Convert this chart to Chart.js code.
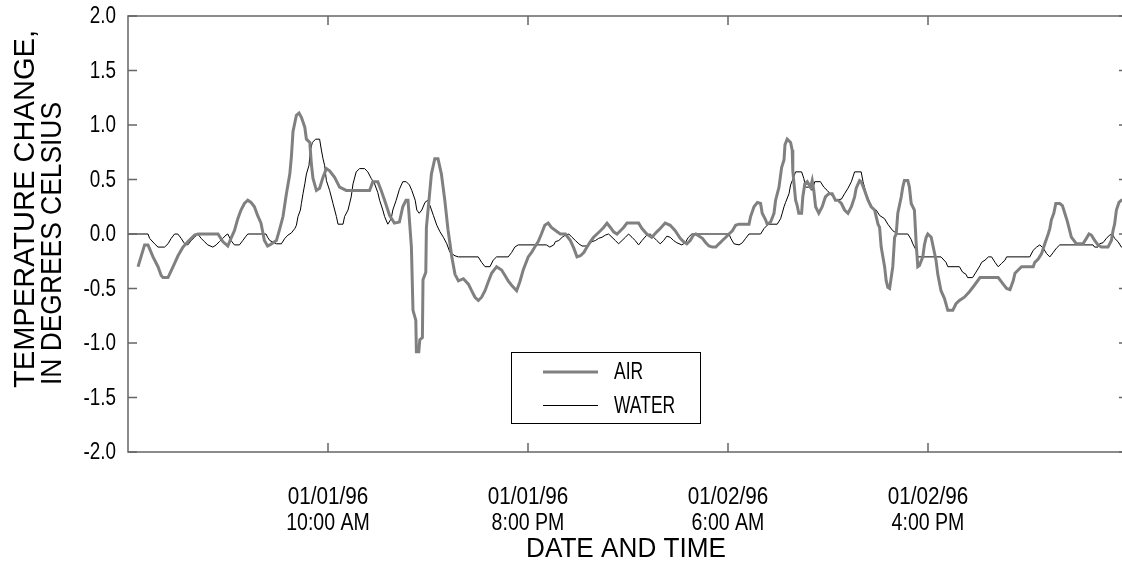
<!DOCTYPE html>
<html>
<head>
<meta charset="utf-8">
<script src="https://cdn.jsdelivr.net/npm/chart.js@4.4.1/dist/chart.umd.min.js"></script>
<style>
  html, body { margin: 0; padding: 0; background: #fff; overflow: hidden; }
  #wrap { width: 1129px; height: 564px; }
</style>
</head>
<body>
<div id="wrap"><canvas id="tempChart" width="1129" height="564"></canvas></div>
<script>
// hours since 01/01/96 12:00 AM
const airHours = [
  0.5, 0.83, 1.0, 1.25, 1.5, 1.66, 1.75, 2.0, 2.33, 2.5,
  2.75, 3.0, 3.33, 3.5, 4.5, 4.74, 4.99, 5.15, 5.32, 5.49,
  5.65, 5.82, 5.99, 6.15, 6.32, 6.48, 6.65, 6.82, 6.98, 7.09,
  7.42, 7.59, 7.75, 7.92, 8.09, 8.17, 8.25, 8.42, 8.55, 8.67,
  8.84, 8.92, 9.09, 9.17, 9.25, 9.42, 9.58, 9.75, 9.92, 10.08,
  10.33, 10.58, 10.91, 12.08, 12.24, 12.49, 12.66, 12.83, 13.08, 13.32,
  13.57, 13.74, 13.90, 14.0, 14.17, 14.25, 14.39, 14.42, 14.54, 14.59,
  14.72, 14.75, 14.89, 14.92, 15.05, 15.17, 15.34, 15.50, 15.67, 15.84,
  16.00, 16.10, 16.19, 16.35, 16.52, 16.77, 17.02, 17.18, 17.35, 17.52,
  17.68, 17.85, 18.01, 18.18, 18.43, 18.68, 18.85, 19.01, 19.18, 19.43,
  19.59, 19.76, 20.01, 20.18, 20.34, 20.51, 20.67, 20.84, 21.01, 21.17,
  21.46, 21.62, 21.87, 22.12, 22.29, 22.45, 22.62, 22.79, 22.95, 23.12,
  23.28, 23.45, 23.62, 23.78, 23.95, 24.12, 24.28, 24.45, 24.62, 24.78,
  24.95, 25.53, 25.70, 25.94, 26.19, 26.44, 26.61, 26.86, 27.11, 27.36,
  27.61, 27.77, 27.94, 28.11, 28.27, 28.39, 28.72, 28.89, 29.05, 29.22,
  29.39, 29.55, 29.72, 29.89, 30.05, 30.22, 30.38, 30.55, 31.05, 31.13,
  31.30, 31.47, 31.63, 31.71, 31.88, 31.96, 32.13, 32.30, 32.38, 32.55,
  32.68, 32.80, 32.85, 32.96, 33.13, 33.21, 33.24, 33.38, 33.46, 33.54,
  33.68, 33.74, 33.84, 33.96, 34.13, 34.21, 34.29, 34.38, 34.54, 34.71,
  34.87, 35.04, 35.21, 35.37, 35.50, 35.67, 35.83, 36.00, 36.17, 36.33,
  36.41, 36.58, 36.66, 36.83, 37.00, 37.16, 37.33, 37.50, 37.58, 37.66,
  37.83, 37.91, 37.99, 38.08, 38.16, 38.24, 38.33, 38.41, 38.49, 38.66,
  38.74, 38.82, 38.99, 39.07, 39.16, 39.32, 39.41, 39.49, 39.57, 39.74,
  39.82, 39.91, 39.99, 40.16, 40.24, 40.40, 40.49, 40.65, 40.82, 40.99,
  41.24, 41.40, 41.57, 41.82, 42.07, 42.32, 42.60, 43.51, 43.76, 43.93,
  44.10, 44.18, 44.26, 44.35, 44.51, 44.68, 45.26, 45.34, 45.51, 45.68,
  45.84, 46.01, 46.09, 46.17, 46.29, 46.39, 46.59, 46.72, 46.84, 46.96,
  47.06, 47.17, 47.34, 47.42, 47.75, 47.92, 48.05, 48.17, 48.34, 48.50,
  48.67, 49.00, 49.17, 49.25, 49.33, 49.42, 49.55, 49.67, 50.00
];
const airChange = [
  -0.30, -0.10, -0.10, -0.21, -0.30, -0.38, -0.40, -0.40, -0.27, -0.20,
  -0.12, -0.07, -0.01, 0, 0, -0.07, -0.11, -0.04, 0.03, 0.14,
  0.22, 0.28, 0.31, 0.29, 0.25, 0.17, 0.10, -0.06, -0.11, -0.10,
  -0.06, 0.05, 0.16, 0.37, 0.55, 0.71, 0.94, 1.09, 1.11, 1.07,
  0.98, 0.87, 0.84, 0.64, 0.51, 0.40, 0.42, 0.52, 0.60, 0.58,
  0.52, 0.43, 0.40, 0.40, 0.48, 0.48, 0.40, 0.31, 0.17, 0.10,
  0.11, 0.25, 0.31, 0.31, -0.12, -0.70, -0.79, -1.08, -1.08, -0.97,
  -0.95, -0.42, -0.35, 0.06, 0.31, 0.55, 0.69, 0.69, 0.55, 0.31,
  0.04, -0.09, -0.21, -0.37, -0.43, -0.41, -0.46, -0.52, -0.58, -0.61,
  -0.58, -0.52, -0.44, -0.36, -0.30, -0.33, -0.38, -0.43, -0.47, -0.52,
  -0.44, -0.33, -0.21, -0.17, -0.12, -0.07, 0, 0.08, 0.10, 0.06,
  0.02, 0, 0, -0.06, -0.13, -0.21, -0.20, -0.17, -0.12, -0.07,
  -0.03, 0, 0.03, 0.06, 0.10, 0.06, 0.02, 0, 0.03, 0.06,
  0.10, 0.10, 0.05, 0, -0.03, 0.02, 0.05, 0.10, 0.08, 0.03,
  -0.04, -0.07, -0.09, -0.06, -0.01, 0, -0.04, -0.08, -0.11, -0.12,
  -0.12, -0.09, -0.06, -0.03, 0, 0.03, 0.08, 0.09, 0.09, 0.16,
  0.25, 0.29, 0.28, 0.19, 0.13, 0.09, 0.11, 0.19, 0.31, 0.43,
  0.61, 0.68, 0.82, 0.87, 0.84, 0.77, 0.58, 0.31, 0.26, 0.19,
  0.19, 0.34, 0.46, 0.48, 0.43, 0.49, 0.40, 0.25, 0.19, 0.25,
  0.34, 0.37, 0.37, 0.31, 0.31, 0.28, 0.22, 0.19, 0.25, 0.34,
  0.42, 0.49, 0.48, 0.40, 0.31, 0.25, 0.22, 0.09, 0.06, -0.12,
  -0.30, -0.43, -0.49, -0.50, -0.40, -0.30, -0.03, 0, 0.19, 0.34,
  0.43, 0.49, 0.49, 0.43, 0.28, 0.22, -0.09, -0.30, -0.29, -0.21,
  -0.10, -0.03, 0, -0.03, -0.10, -0.24, -0.37, -0.52, -0.59, -0.70,
  -0.70, -0.64, -0.61, -0.58, -0.53, -0.47, -0.40, -0.40, -0.46, -0.50,
  -0.51, -0.47, -0.43, -0.36, -0.33, -0.30, -0.30, -0.26, -0.23, -0.18,
  -0.09, 0, 0.05, 0.13, 0.19, 0.28, 0.28, 0.26, 0.19, 0.12,
  0.05, -0.03, -0.07, -0.09, -0.09, -0.04, 0, -0.01, -0.06, -0.10,
  -0.12, -0.12, -0.06, 0.03, 0.09, 0.22, 0.29, 0.31, 0.31
];

const waterHours = [
  0, 1.0, 1.08, 1.33, 1.5, 1.83, 2.0, 2.16, 2.33, 2.49,
  2.66, 2.83, 2.99, 3.16, 3.33, 3.49, 3.66, 3.82, 3.99, 4.24,
  4.41, 4.57, 4.74, 4.90, 4.99, 5.15, 5.32, 5.57, 5.74, 5.90,
  5.99, 6.90, 6.98, 7.09, 7.42, 7.67, 7.84, 8.00, 8.17, 8.34,
  8.42, 8.50, 8.62, 8.67, 8.75, 8.84, 8.92, 9.05, 9.12, 9.22,
  9.38, 9.58, 9.67, 9.75, 9.83, 9.92, 10.08, 10.25, 10.42, 10.50,
  10.75, 10.83, 11.00, 11.16, 11.25, 11.41, 11.58, 11.83, 11.99, 12.16,
  12.33, 12.49, 12.58, 12.74, 12.83, 12.99, 13.16, 13.24, 13.41, 13.57,
  13.74, 13.91, 14.07, 14.19, 14.36, 14.44, 14.56, 14.69, 14.85, 14.99,
  15.10, 15.27, 15.44, 15.60, 15.77, 15.94, 16.10, 16.35, 16.52, 17.51,
  17.68, 17.85, 18.10, 18.26, 18.43, 19.01, 19.18, 19.34, 19.51, 20.92,
  21.09, 21.29, 21.37, 21.54, 21.71, 21.87, 22.04, 22.20, 22.37, 22.54,
  22.70, 22.95, 23.04, 23.20, 23.37, 23.53, 23.70, 23.87, 24.03, 24.20,
  24.37, 24.53, 24.70, 24.87, 25.03, 25.20, 25.36, 25.53, 25.70, 25.94,
  26.11, 26.28, 26.44, 26.61, 26.78, 26.94, 27.11, 27.28, 27.44, 27.69,
  27.86, 28.02, 28.19, 30.05, 30.14, 30.30, 30.55, 30.72, 30.88, 31.05,
  31.63, 31.80, 31.96, 32.05, 32.46, 32.63, 32.71, 32.80, 32.88, 33.05,
  33.13, 33.26, 33.38, 33.68, 33.79, 33.88, 34.04, 34.21, 34.34, 34.62,
  34.79, 34.96, 35.21, 35.37, 35.67, 35.83, 36.00, 36.17, 36.33, 36.66,
  36.75, 36.91, 37.08, 37.25, 37.41, 37.58, 37.83, 37.99, 38.24, 38.49,
  38.99, 39.16, 39.24, 39.41, 39.49, 40.65, 40.90, 40.99, 41.57, 41.73,
  41.90, 41.98, 42.23, 42.40, 42.60, 42.68, 42.85, 43.02, 43.18, 43.35,
  43.51, 43.68, 43.85, 43.93, 45.09, 45.26, 45.43, 45.59, 45.76, 45.93,
  46.09, 46.26, 46.42, 46.59, 48.25, 48.33, 48.50, 48.58, 48.75, 48.92,
  49.08, 49.22, 49.33, 49.50, 49.67, 50.00
];
const waterChange = [
  0, 0, -0.04, -0.09, -0.12, -0.12, -0.09, -0.04, 0, 0,
  -0.04, -0.09, -0.10, -0.06, -0.03, 0, -0.04, -0.07, -0.10, -0.12,
  -0.10, -0.07, -0.04, -0.01, 0, -0.06, -0.10, -0.10, -0.06, -0.02,
  0, 0, -0.03, -0.06, -0.09, -0.09, -0.04, -0.01, 0.01, 0.05,
  0.08, 0.16, 0.22, 0.28, 0.37, 0.46, 0.55, 0.63, 0.77, 0.84,
  0.87, 0.87, 0.77, 0.69, 0.63, 0.49, 0.40, 0.28, 0.16, 0.09,
  0.09, 0.16, 0.22, 0.34, 0.46, 0.57, 0.60, 0.60, 0.57, 0.51,
  0.46, 0.38, 0.31, 0.22, 0.16, 0.09, 0.14, 0.22, 0.31, 0.41,
  0.48, 0.48, 0.45, 0.40, 0.31, 0.22, 0.19, 0.22, 0.29, 0.31,
  0.26, 0.17, 0.08, 0.02, -0.03, -0.09, -0.17, -0.20, -0.21, -0.21,
  -0.26, -0.30, -0.30, -0.24, -0.21, -0.21, -0.17, -0.12, -0.10, -0.10,
  -0.12, -0.10, -0.07, -0.06, -0.03, -0.01, 0, -0.03, -0.06, -0.09,
  -0.11, -0.11, -0.09, -0.07, -0.06, -0.04, -0.03, -0.01, 0, -0.03,
  -0.06, -0.09, -0.06, -0.03, 0, -0.03, -0.06, -0.10, -0.06, -0.01,
  0, -0.03, -0.06, -0.09, -0.06, -0.02, -0.03, -0.06, -0.08, -0.10,
  -0.08, -0.03, 0, 0, -0.04, -0.09, -0.10, -0.08, -0.04, 0,
  0, 0.05, 0.08, 0.09, 0.09, 0.14, 0.19, 0.25, 0.29, 0.37,
  0.45, 0.51, 0.57, 0.57, 0.51, 0.43, 0.43, 0.40, 0.48, 0.48,
  0.43, 0.40, 0.35, 0.31, 0.32, 0.37, 0.42, 0.48, 0.57, 0.57,
  0.48, 0.37, 0.29, 0.23, 0.22, 0.17, 0.14, 0.09, 0.03, 0,
  0, -0.05, -0.09, -0.15, -0.21, -0.21, -0.26, -0.30, -0.30, -0.35,
  -0.37, -0.40, -0.40, -0.35, -0.29, -0.26, -0.24, -0.21, -0.21, -0.26,
  -0.30, -0.27, -0.24, -0.21, -0.21, -0.15, -0.12, -0.10, -0.13, -0.18,
  -0.21, -0.17, -0.13, -0.10, -0.10, -0.12, -0.12, -0.09, -0.08, -0.04,
  -0.01, 0, -0.04, -0.07, -0.12, -0.12
];

const tickHours = [10, 20, 30, 40];
const tickDates = ["01/01/96", "01/01/96", "01/02/96", "01/02/96"];
const tickTimes = ["10:00 AM", "8:00 PM", "6:00 AM", "4:00 PM"];
const seriesNames = ["AIR", "WATER"];
const yTitle = ["TEMPERATURE CHANGE,", "IN DEGREES CELSIUS"];
const xTitle = "DATE AND TIME";

const FONT = "'Liberation Sans', Arial, sans-serif";
const SQUEEZE = 0.85; // condensed look for the small labels

function toPoints(xs, ys) {
  return xs.map((x, i) => ({ x: x, y: ys[i] }));
}

// text drawn with a horizontal scale factor k
function squeezedText(ctx, text, x, y, size, k, align) {
  ctx.font = size + "px " + FONT;
  ctx.save();
  ctx.translate(x, y);
  ctx.scale(k, 1);
  ctx.textAlign = align;
  ctx.fillText(text, 0, 0);
  ctx.restore();
}

// text stretched to a given length
function fitText(ctx, text, x, y, size, len, align) {
  ctx.font = size + "px " + FONT;
  squeezedText(ctx, text, x, y, size, len / ctx.measureText(text).width, align);
}

const framePlugin = {
  id: "frame",
  afterDraw(chart) {
    const { ctx, chartArea: a, scales } = chart;
    const xs = scales.x, ys = scales.y;
    ctx.save();

    // frame + inward ticks
    ctx.strokeStyle = "#666";
    ctx.lineWidth = 1.5;
    ctx.strokeRect(a.left, a.top, a.right - a.left, a.bottom - a.top);
    ctx.beginPath();
    ys.ticks.forEach(t => {
      const py = ys.getPixelForValue(t.value);
      ctx.moveTo(a.left, py); ctx.lineTo(a.left + 9, py);
      ctx.moveTo(a.right, py); ctx.lineTo(a.right - 9, py);
    });
    xs.ticks.forEach(t => {
      const px = xs.getPixelForValue(t.value);
      ctx.moveTo(px, a.bottom); ctx.lineTo(px, a.bottom - 9);
      ctx.moveTo(px, a.top); ctx.lineTo(px, a.top + 9);
    });
    ctx.stroke();

    // tick labels
    ctx.fillStyle = "#000";
    ctx.textBaseline = "middle";
    ys.ticks.forEach(t => {
      const py = ys.getPixelForValue(t.value);
      squeezedText(ctx, t.value.toFixed(1), a.left - 12, py + 1, 23, 0.82, "right");
    });
    xs.ticks.forEach((t, i) => {
      const px = xs.getPixelForValue(t.value);
      squeezedText(ctx, tickDates[i], px, a.bottom + 46, 23, 0.9, "center");
      squeezedText(ctx, tickTimes[i], px, a.bottom + 72, 23, SQUEEZE, "center");
    });

    // axis titles
    ctx.save();
    ctx.translate(26, 388);
    ctx.rotate(-Math.PI / 2);
    fitText(ctx, yTitle[0], 0, 0, 30, 358, "left");
    ctx.restore();
    ctx.save();
    ctx.translate(53, 385);
    ctx.rotate(-Math.PI / 2);
    fitText(ctx, yTitle[1], 0, 0, 30, 283, "left");
    ctx.restore();
    fitText(ctx, xTitle, 626, 549, 28, 200, "center");

    // legend
    const box = { left: 511, top: 352, w: 189, h: 71 };
    ctx.strokeStyle = "#000";
    ctx.lineWidth = 1;
    ctx.strokeRect(box.left + 0.5, box.top + 0.5, box.w, box.h);
    const rows = [372, 405.5];
    chart.data.datasets.forEach((ds, i) => {
      ctx.strokeStyle = ds.borderColor;
      ctx.lineWidth = ds.borderWidth;
      ctx.beginPath();
      ctx.moveTo(543, rows[i]);
      ctx.lineTo(598, rows[i]);
      ctx.stroke();
      ctx.fillStyle = "#000";
      squeezedText(ctx, ds.label, 614, rows[i] + 1, 23, 0.76, "left");
    });
    ctx.restore();
  }
};

new Chart(document.getElementById("tempChart"), {
  type: "line",
  data: {
    datasets: [
      {
        label: seriesNames[0],
        data: toPoints(airHours, airChange),
        borderColor: "#808080",
        borderWidth: 3,
        pointRadius: 0,
        tension: 0,
        fill: false
      },
      {
        label: seriesNames[1],
        data: toPoints(waterHours, waterChange),
        borderColor: "#000000",
        borderWidth: 1,
        pointRadius: 0,
        tension: 0,
        fill: false
      }
    ]
  },
  options: {
    responsive: false,
    animation: false,
    layout: { padding: { top: 16, right: 1, left: 0, bottom: 0 } },
    plugins: {
      legend: { display: false },
      tooltip: { enabled: false }
    },
    scales: {
      x: {
        type: "linear",
        min: 0,
        max: 50,
        grid: { display: false, drawTicks: false },
        border: { display: false },
        afterBuildTicks: s => { s.ticks = tickHours.map(v => ({ value: v })); },
        afterFit: s => { s.height = 112; },
        ticks: { display: false }
      },
      y: {
        min: -2,
        max: 2,
        grid: { display: false, drawTicks: false },
        border: { display: false },
        afterFit: s => { s.width = 128; },
        ticks: { display: false, stepSize: 0.5 }
      }
    }
  },
  plugins: [framePlugin]
});
</script>
